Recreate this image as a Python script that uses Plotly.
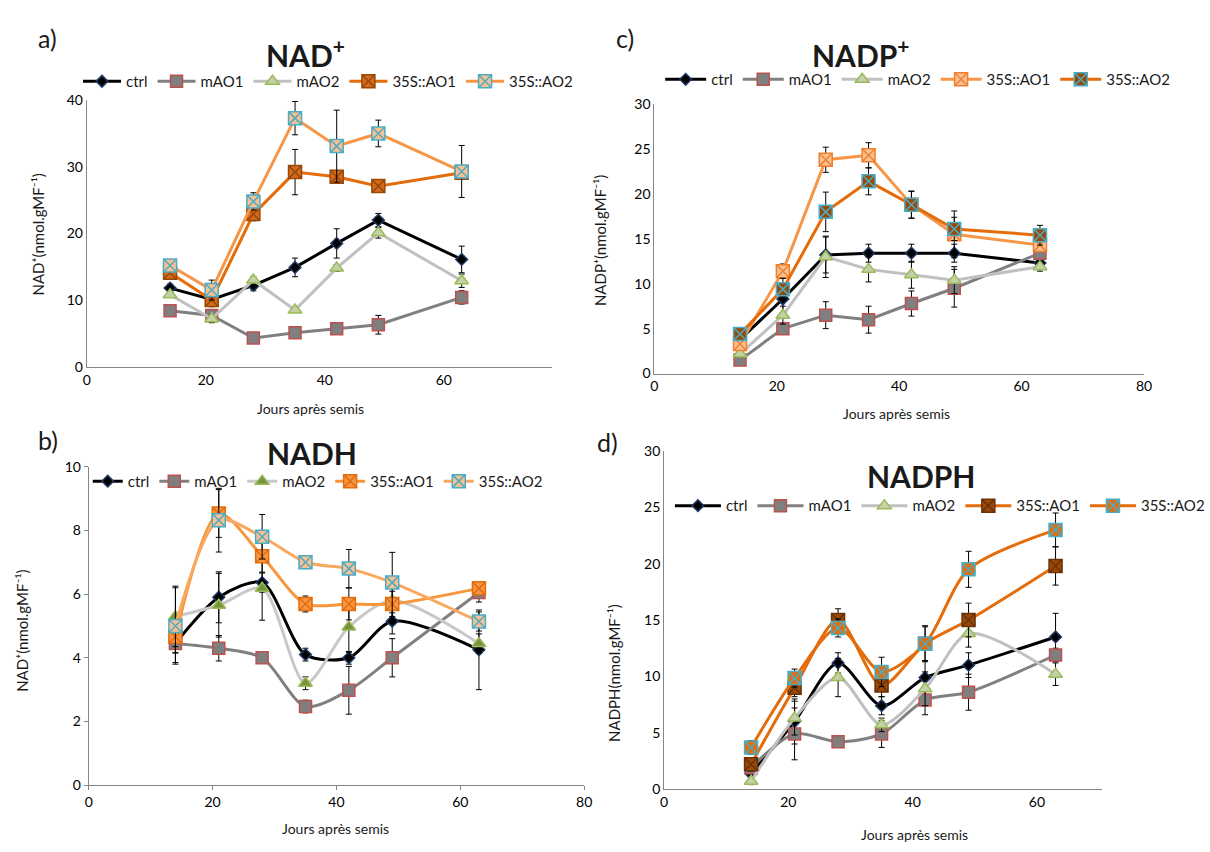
import plotly.graph_objects as go

W, H = 1210, 852

days = [14, 21, 28, 35, 42, 49, 63]
series_names = ["ctrl", "mAO1", "mAO2", "35S::AO1", "35S::AO2"]

# a) NAD+
nad_ctrl = [11.8, 10.1, 12.2, 14.9, 18.5, 22.0, 16.1]
nad_mao1 = [8.4, 7.7, 4.3, 5.1, 5.7, 6.3, 10.4]
nad_mao2 = [10.8, 7.2, 13.0, 8.5, 14.8, 20.1, 12.9]
nad_ao1 = [14.1, 10.0, 22.9, 29.2, 28.5, 27.1, 29.1]
nad_ao2 = [15.2, 11.5, 24.8, 37.3, 33.1, 35.0, 29.3]
nad_ctrl_err = [0.6, 1.0, 0.8, 1.4, 2.2, 1.0, 2.0]
nad_mao1_err = [0.3, 0.4, 0.3, 0.3, 0.3, 1.4, 1.0]
nad_mao2_err = [0.4, 0.6, 0.5, 0.3, 0.5, 0.8, 1.0]
nad_ao1_err = [0.5, 1.0, 1.0, 3.4, 0.6, 0.3, 0.5]
nad_ao2_err = [0.8, 1.5, 1.3, 2.5, 5.4, 2.0, 3.9]

# c) NADP+
nadp_ctrl = [3.8, 8.3, 13.2, 13.4, 13.4, 13.4, 12.3]
nadp_mao1 = [1.5, 5.0, 6.5, 6.0, 7.8, 9.5, 13.4]
nadp_mao2 = [2.2, 6.5, 13.0, 11.6, 11.0, 10.4, 11.9]
nadp_ao1 = [3.3, 11.4, 23.8, 24.3, 18.8, 15.5, 14.3]
nadp_ao2 = [4.4, 9.4, 18.0, 21.4, 18.8, 16.1, 15.4]
nadp_ctrl_err = [0.5, 1.5, 2.0, 1.0, 1.0, 1.0, 0.5]
nadp_mao1_err = [0.3, 0.6, 1.5, 1.5, 1.4, 2.1, 0.5]
nadp_mao2_err = [0.3, 1.0, 2.3, 1.4, 1.5, 1.5, 0.5]
nadp_ao1_err = [0.5, 0.8, 1.4, 1.4, 1.5, 2.6, 0.6]
nadp_ao2_err = [0.5, 1.2, 2.2, 1.5, 1.5, 1.3, 1.1]

# b) NADH
nadh_ctrl = [4.45, 5.9, 6.36, 4.1, 4.0, 5.15, 4.25]
nadh_mao1 = [4.45, 4.3, 4.0, 2.47, 2.98, 4.0, 6.05]
nadh_mao2 = [5.3, 5.65, 6.18, 3.2, 4.97, 5.8, 4.45]
nadh_ao1 = [4.66, 8.53, 7.19, 5.69, 5.69, 5.69, 6.18]
nadh_ao2 = [5.0, 8.32, 7.8, 7.0, 6.8, 6.36, 5.14]
nadh_ctrl_err = [0.6, 0.8, 0.3, 0.2, 0.2, 0.4, 1.25]
nadh_mao1_err = [0.3, 0.4, 0.1, 0.2, 0.75, 0.6, 0.3]
nadh_mao2_err = [0.95, 1.0, 1.0, 0.2, 0.8, 0.6, 0.3]
nadh_ao1_err = [0.5, 0.75, 0.5, 0.25, 0.5, 0.4, 0.1]
nadh_ao2_err = [1.2, 1.0, 0.7, 0.2, 0.6, 0.95, 0.3]

# d) NADPH
nadph_ctrl = [1.36, 6.0, 11.2, 7.4, 9.9, 11.0, 13.5]
nadph_mao1 = [1.9, 4.9, 4.2, 4.9, 7.9, 8.6, 11.9]
nadph_mao2 = [0.7, 6.3, 9.9, 5.7, 8.9, 13.8, 10.2]
nadph_ao1 = [2.2, 9.0, 15.0, 9.2, 12.9, 15.0, 19.8]
nadph_ao2 = [3.7, 9.85, 14.3, 10.4, 12.9, 19.5, 23.0]
nadph_ctrl_err = [0.5, 2.0, 0.9, 0.8, 1.5, 1.1, 2.1]
nadph_mao1_err = [0.5, 2.3, 0.2, 1.2, 1.3, 1.6, 0.6]
nadph_mao2_err = [0.3, 1.5, 1.7, 0.6, 1.5, 1.2, 1.0]
nadph_ao1_err = [0.6, 0.8, 1.0, 1.0, 1.5, 1.5, 1.7]
nadph_ao2_err = [0.6, 0.8, 0.8, 1.3, 1.6, 1.6, 1.5]

FONT = "Lato"


def px_x(p):
    return p / W


def px_y(p):
    return 1 - p / H


# styles: (line color, marker symbol, marker fill, marker edge, marker size)
ctrl_style = ("#000000", "diamond", "#000000", "#1f3864", 9)
mao1_style = ("#808080", "square", "#7f7f7f", "#c0504d", 12)
mao2_a = ("#c0c0c0", "triangle-up", "#c4d0a8", "#9bbb59", 12)
mao2_b = ("#c8c8c8", "triangle-up", "#77933c", "#9bbb59", 12)

panels = [
    dict(key="", vals=[nad_ctrl, nad_mao1, nad_mao2, nad_ao1, nad_ao2],
         errs=[nad_ctrl_err, nad_mao1_err, nad_mao2_err, nad_ao1_err, nad_ao2_err],
         styles=[ctrl_style, mao1_style, mao2_a,
                 ("#e46c0a", "square-x", "#d46a1e", "#984807", 13),
                 ("#f79646", "square-x", "#fac090", "#4bacc6", 13)],
         xpx=(85, 563), ypx=(365, 93), xr=[0, 78.2], yr=[0, 40], dtick_y=10,
         ticks="", shape="linear", legend_xy=(76, 74), itemw=38, lfont=15),
    dict(key="2", vals=[nadp_ctrl, nadp_mao1, nadp_mao2, nadp_ao1, nadp_ao2],
         errs=[nadp_ctrl_err, nadp_mao1_err, nadp_mao2_err, nadp_ao1_err, nadp_ao2_err],
         styles=[ctrl_style, mao1_style, mao2_a,
                 ("#f79646", "square-x", "#fac090", "#f08030", 13),
                 ("#e46c0a", "square-x", "#984807", "#4bacc6", 13)],
         xpx=(668, 1171), ypx=(372, 97), xr=[0, 80], yr=[0, 30], dtick_y=5,
         ticks="", shape="linear", legend_xy=(674, 72), itemw=41, lfont=15),
    dict(key="3", vals=[nadh_ctrl, nadh_mao1, nadh_mao2, nadh_ao1, nadh_ao2],
         errs=[nadh_ctrl_err, nadh_mao1_err, nadh_mao2_err, nadh_ao1_err, nadh_ao2_err],
         styles=[ctrl_style, mao1_style, mao2_b,
                 ("#f7963c", "square-x", "#f79646", "#e46c0a", 13),
                 ("#f9a860", "square-x", "#fac090", "#4bacc6", 13)],
         xpx=(87, 596), ypx=(792, 467), xr=[0, 80], yr=[0, 10], dtick_y=2,
         ticks="outside", shape="spline", legend_xy=(86, 482), itemw=30, lfont=15),
    dict(key="4", vals=[nadph_ctrl, nadph_mao1, nadph_mao2, nadph_ao1, nadph_ao2],
         errs=[nadph_ctrl_err, nadph_mao1_err, nadph_mao2_err, nadph_ao1_err, nadph_ao2_err],
         styles=[ctrl_style, mao1_style, mao2_a,
                 ("#e46c0a", "square-x", "#984807", "#6b3208", 13),
                 ("#e46c0a", "square-x", "#e46c0a", "#4bacc6", 13)],
         xpx=(678, 1128), ypx=(796, 451), xr=[0, 70.5], yr=[0, 30], dtick_y=5,
         ticks="", shape="spline", legend_xy=(684, 507), itemw=46, lfont=15),
]

fig = go.Figure()
layout = dict(width=W, height=H, margin=dict(l=0, r=0, t=0, b=0),
              paper_bgcolor="white", plot_bgcolor="white",
              font=dict(family=FONT, size=14, color="#000000"),
              showlegend=True)

for p in panels:
    k = p["key"]
    leg = "legend" + k
    for name, v, e, st in zip(series_names, p["vals"], p["errs"], p["styles"]):
        lc, sym, fill, edge, size = st
        fig.add_trace(go.Scatter(
            x=days, y=v, name=name, mode="lines+markers",
            xaxis="x" + k, yaxis="y" + k, legend=leg,
            line=dict(color=lc, width=3, shape=p["shape"], smoothing=0.8),
            marker=dict(symbol=sym, size=size, color=fill,
                        line=dict(color=edge, width=1.5)),
            error_y=dict(type="data", array=e, color="black",
                         thickness=1, width=3),
        ))
    x0, x1 = p["xpx"]
    yb, yt = p["ypx"]
    axis_common = dict(showline=True, linecolor="#868686", linewidth=1,
                       showgrid=False, zeroline=False, ticks=p["ticks"],
                       ticklen=4, tickcolor="#868686",
                       tickfont=dict(family=FONT, size=14, color="#000000"))
    layout["xaxis" + k] = dict(axis_common, domain=[px_x(x0), px_x(x1)],
                               range=p["xr"], dtick=20, tick0=0,
                               anchor="y" + k)
    layout["yaxis" + k] = dict(axis_common, domain=[px_y(yb), px_y(yt)],
                               range=p["yr"], dtick=p["dtick_y"], tick0=0,
                               anchor="x" + k)
    lx, ly = p["legend_xy"]
    layout[leg] = dict(orientation="h", x=px_x(lx), y=px_y(ly),
                       xanchor="left", yanchor="middle",
                       bgcolor="rgba(0,0,0,0)", itemwidth=p["itemw"],
                       font=dict(family=FONT, size=p["lfont"], color="#1a1a1a"))

annotations = []


def text(x, y, s, size=13, bold=False, angle=0, color="#1a1a1a"):
    if bold:
        s = "<b>" + s + "</b>"
    annotations.append(dict(x=px_x(x), y=px_y(y), xref="paper", yref="paper",
                            text=s, showarrow=False, textangle=angle,
                            font=dict(family=FONT, size=size, color=color),
                            xanchor="center", yanchor="middle"))


# panel letters
text(45, 30, "a)", size=25)
text(638, 30, "c)", size=25)
text(45, 440, "b)", size=25)
text(620, 442, "d)", size=25)

# titles
text(310, 45, "NAD<sup>+</sup>", size=30, bold=True)
text(880, 45, "NADP<sup>+</sup>", size=30, bold=True)
text(316, 453, "NADH", size=30, bold=True)
text(942, 477, "NADPH", size=30, bold=True)

# axis titles
text(315, 408, "Jours après semis", size=14)
text(917, 413, "Jours après semis", size=14)
text(341, 836, "Jours après semis", size=14)
text(935, 842, "Jours après semis", size=14)
text(35, 230, "NAD⁺(nmol.gMF⁻¹)", size=15, angle=-90)
text(612, 236, "NADP⁺(nmol.gMF⁻¹)", size=15, angle=-90)
text(19, 634, "NAD⁺(nmol.gMF⁻¹)", size=15, angle=-90)
text(627, 677, "NADPH(nmol.gMF⁻¹)", size=15, angle=-90)

layout["annotations"] = annotations
fig.update_layout(**layout)

# drop the default page margin so the figure sits at the window origin
fig.write_html("out.html", config={"displayModeBar": False},
               post_script="document.body.style.margin='0px';")
